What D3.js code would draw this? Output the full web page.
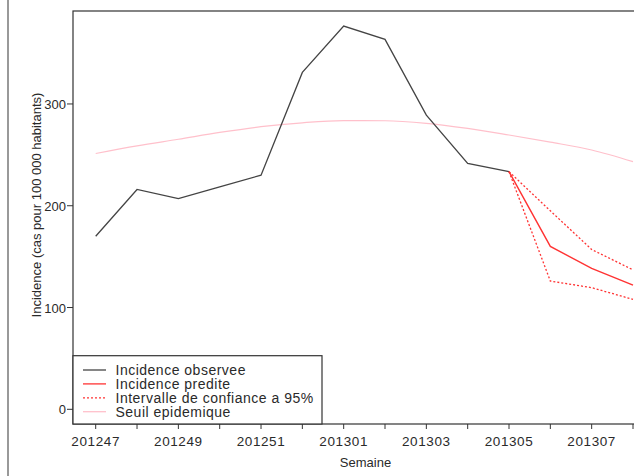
<!DOCTYPE html>
<html>
<head>
<meta charset="utf-8">
<script src="https://cdn.jsdelivr.net/npm/d3@7"></script>
<style>
  body { margin: 0; background: #fff; }
  text { font-family: "Liberation Sans", Arial, sans-serif; fill: #2a2a2a; }
</style>
</head>
<body>
<div id="chart"></div>
<script>
// weeks on the x axis
const weeks = ['201247','201248','201249','201250','201251','201252','201301',
               '201302','201303','201304','201305','201306','201307','201308'];
const tickLabels = ['201247','201249','201251','201301','201303','201305','201307'];

// observed incidence (weeks 201247 .. 201305)
const observed = [170, 216, 207, 218.5, 230, 331, 376.5, 363.5, 289, 241.5, 233.5];
// prediction and 95% interval (weeks 201305 .. 201308)
const predStart = 10;
const predicted = [233.5, 160, 138.5, 122];
const lower = [233.5, 126, 119.5, 108];
const upper = [233.5, 195, 157, 137];
// epidemic threshold (all weeks)
const threshold = [251.3, 258.8, 265.3, 272, 277.7, 281.5, 283.6, 283.5, 281, 276, 269.5, 262.5, 254.8, 243.3];

const yTicks = [0, 100, 200, 300];

const W = 634, H = 476;
const mLeft = 73, mTop = 11, mBottom = 424, mRight = 655;

const svg = d3.select('#chart').append('svg')
  .attr('width', W).attr('height', H);

const x = d3.scaleLinear().domain([0, 13]).range([95.7, 633]);
const y = d3.scaleLinear().domain([0, 376.6]).range([409.3, 26]);

// outer frame edge on the left
svg.append('line')
  .attr('x1', 8).attr('x2', 8).attr('y1', 0).attr('y2', H)
  .attr('stroke', '#777').attr('stroke-width', 1.5);

const line = d3.line().x(d => x(d[0])).y(d => y(d[1]));

// threshold
svg.append('path')
  .datum(threshold.map((v, i) => [i, v]))
  .attr('d', d3.line().curve(d3.curveMonotoneX).x(d => x(d[0])).y(d => y(d[1])))
  .attr('fill', 'none').attr('stroke', '#ffc0cb').attr('stroke-width', 1.2);

// observed
svg.append('path')
  .datum(observed.map((v, i) => [i, v]))
  .attr('d', line)
  .attr('fill', 'none').attr('stroke', '#444').attr('stroke-width', 1.3);

// confidence interval
[lower, upper].forEach(arr => {
  svg.append('path')
    .datum(arr.map((v, i) => [i + predStart, v]))
    .attr('d', line)
    .attr('fill', 'none').attr('stroke', '#ff3333').attr('stroke-width', 1.3)
    .attr('stroke-dasharray', '2,2');
});

// predicted
svg.append('path')
  .datum(predicted.map((v, i) => [i + predStart, v]))
  .attr('d', line)
  .attr('fill', 'none').attr('stroke', '#ff3333').attr('stroke-width', 1.4);

// plot box
svg.append('rect')
  .attr('x', mLeft).attr('y', mTop)
  .attr('width', mRight - mLeft).attr('height', mBottom - mTop)
  .attr('fill', 'none').attr('stroke', '#333').attr('stroke-width', 1.2);

// y axis
const yAxis = svg.append('g');
yTicks.forEach(t => {
  yAxis.append('line')
    .attr('x1', mLeft - 6).attr('x2', mLeft).attr('y1', y(t)).attr('y2', y(t))
    .attr('stroke', '#333');
  yAxis.append('text')
    .attr('x', mLeft - 7).attr('y', y(t) + 5)
    .attr('text-anchor', 'end').attr('font-size', 13)
    .text(t);
});

// x axis
const xAxis = svg.append('g');
weeks.forEach((w, i) => {
  xAxis.append('line')
    .attr('x1', x(i)).attr('x2', x(i)).attr('y1', mBottom).attr('y2', mBottom + 5)
    .attr('stroke', '#333');
  if (tickLabels.includes(w)) {
    xAxis.append('text')
      .attr('x', x(i)).attr('y', mBottom + 22)
      .attr('text-anchor', 'middle').attr('font-size', 13.5)
      .attr('letter-spacing', 0.6)
      .text(w);
  }
});

// axis titles
svg.append('text')
  .attr('x', 365.5).attr('y', 467)
  .attr('text-anchor', 'middle').attr('font-size', 13)
  .text('Semaine');
svg.append('text')
  .attr('transform', 'translate(41,205) rotate(-90)')
  .attr('text-anchor', 'middle').attr('font-size', 13)
  .text('Incidence (cas pour 100 000 habitants)');

// legend
const legendItems = [
  { label: 'Incidence observee', color: '#444', dash: null },
  { label: 'Incidence predite', color: '#ff3333', dash: null },
  { label: 'Intervalle de confiance a 95%', color: '#ff3333', dash: '2,2' },
  { label: 'Seuil epidemique', color: '#ffc0cb', dash: null }
];
const lg = svg.append('g');
lg.append('rect')
  .attr('x', mLeft).attr('y', 355.7)
  .attr('width', 322 - mLeft).attr('height', mBottom - 355.7)
  .attr('fill', '#fff').attr('stroke', '#333').attr('stroke-width', 1.2);
legendItems.forEach((d, i) => {
  const yy = 370 + i * 13.9;
  lg.append('line')
    .attr('x1', 83).attr('x2', 106).attr('y1', yy).attr('y2', yy)
    .attr('stroke', d.color).attr('stroke-width', 1.3)
    .attr('stroke-dasharray', d.dash);
  lg.append('text')
    .attr('x', 115.5).attr('y', yy + 5)
    .attr('font-size', 14).attr('letter-spacing', 0.5)
    .text(d.label);
});
</script>
</body>
</html>
